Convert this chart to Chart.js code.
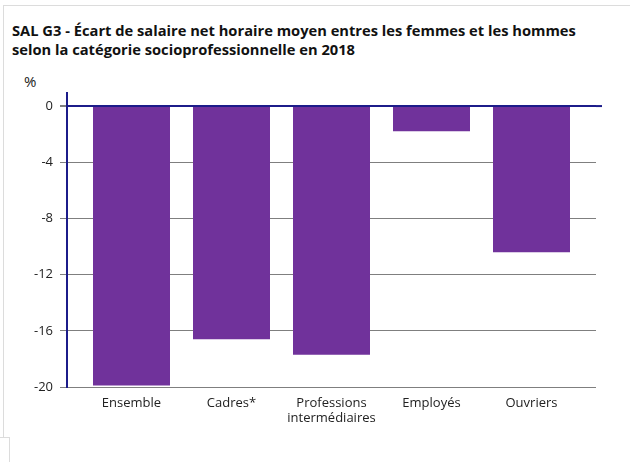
<!DOCTYPE html>
<html>
<head>
<meta charset="utf-8">
<script src="https://cdn.jsdelivr.net/npm/chart.js@4.4.1/dist/chart.umd.min.js"></script>
<style>
  html, body { margin: 0; padding: 0; background: #fff; }
  #wrap { position: relative; width: 630px; height: 462px; overflow: hidden; font-family: "Open Sans", sans-serif; }
  #frame { position: absolute; left: 3px; top: 5px; width: 700px; height: 432px; border-top: 1px solid #dcdcdc; border-left: 1px solid #dcdcdc; }
  #frame2 { position: absolute; left: 0; top: 437px; width: 9px; height: 40px; border-top: 1px solid #dcdcdc; border-right: 1px solid #dcdcdc; }
  #title { position: absolute; left: 12px; top: 21px; font-size: 14.7px; font-weight: 700; line-height: 19px; color: #111; }
  #unit { position: absolute; left: 24px; top: 71px; font-size: 15px; color: #222; }
  canvas { position: absolute; left: 0; top: 0; }
</style>
</head>
<body>
<div id="wrap">
  <div id="frame"></div>
  <div id="frame2"></div>
  <div id="title">SAL G3 - Écart de salaire net horaire moyen entres les femmes et les hommes<br>selon la catégorie socioprofessionnelle en 2018</div>
  <div id="unit">%</div>
  <canvas id="c" width="630" height="462"></canvas>
</div>
<script>
const categories = [["Ensemble"], ["Cadres*"], ["Professions", "intermédiaires"], ["Employés"], ["Ouvriers"]];
const values = [-19.9, -16.6, -17.7, -1.8, -10.4];
const yTicks = [0, -4, -8, -12, -16, -20];

const points = values.map((v, i) => ({ x: i, y: v }));

const zeroLineExt = {
  id: 'zeroLineExt',
  afterDraw(chart) {
    const y = chart.scales.y;
    const ctx = chart.ctx;
    const py = y.getPixelForValue(0);
    ctx.save();
    ctx.strokeStyle = '#1c1c8a';
    ctx.lineWidth = 2;
    ctx.beginPath();
    ctx.moveTo(chart.chartArea.right, py);
    ctx.lineTo(chart.chartArea.right + 6, py);
    ctx.stroke();
    ctx.restore();
  }
};

new Chart(document.getElementById('c'), {
  type: 'bar',
  data: {
    datasets: [{
      data: points,
      backgroundColor: '#70329b',
      borderWidth: 0,
      barPercentage: 0.77,
      categoryPercentage: 1.0
    }]
  },
  plugins: [zeroLineExt],
  options: {
    responsive: false,
    animation: false,
    events: [],
    layout: { padding: { left: 0, right: 34, top: 93, bottom: 0 } },
    plugins: { legend: { display: false }, tooltip: { enabled: false }, title: { display: false } },
    scales: {
      x: {
        type: 'linear',
        offset: false,
        min: -0.645,
        max: 4.645,
        grid: { display: false, offset: false },
        border: { display: false },
        ticks: {
          stepSize: 1,
          includeBounds: false,
          autoSkip: false,
          maxRotation: 0,
          padding: 1,
          color: '#222',
          font: { family: 'Open Sans', size: 13, lineHeight: 1.15 },
          callback: (v) => Number.isInteger(v) && categories[v] ? categories[v] : ''
        },
        afterFit: (s) => { s.height = 75; }
      },
      y: {
        min: -20,
        max: 0.93,
        z: 1,
        afterBuildTicks: (s) => { s.ticks = yTicks.map(v => ({ value: v })); },
        border: { display: true, color: '#1c1c8a', width: 2 },
        grid: {
          color: (ctx) => ctx.tick && ctx.tick.value === 0 ? '#1c1c8a' : 'rgba(0,0,0,0.5)',
          lineWidth: (ctx) => ctx.tick && ctx.tick.value === 0 ? 2 : 1,
          tickColor: 'rgba(0,0,0,0.5)',
          tickLength: 7,
          drawTicks: true
        },
        ticks: {
          padding: 7,
          color: '#222',
          font: { family: 'Open Sans', size: 13 },
          callback: (v) => String(v)
        },
        afterFit: (s) => { s.width = 67; }
      }
    }
  }
});
</script>
</body>
</html>
